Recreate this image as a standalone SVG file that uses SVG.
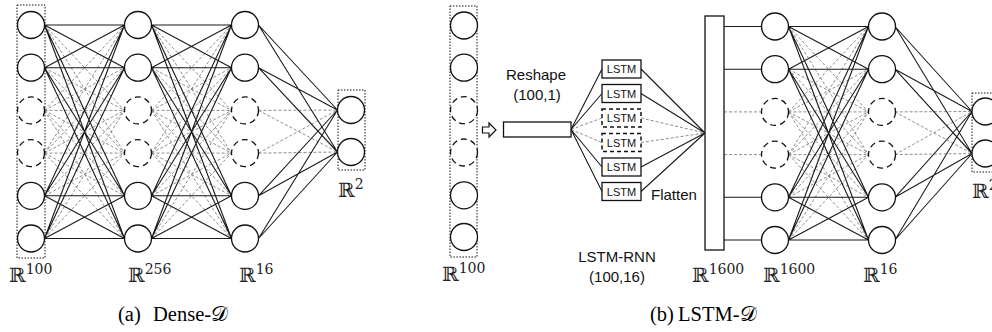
<svg xmlns="http://www.w3.org/2000/svg" xmlns:xlink="http://www.w3.org/1999/xlink" width="992" height="332" viewBox="0 0 992 332">
<style>
.n{fill:#fff;stroke:#111;stroke-width:1.3}
.nd{fill:#fff;stroke:#111;stroke-width:1.3;stroke-dasharray:6 4}
.box{fill:none;stroke:#111;stroke-width:1;stroke-dasharray:1.5 1.5}
.es{fill:none;stroke:#1a1a1a;stroke-width:1.1}
.ed{fill:none;stroke:#808080;stroke-width:0.9;stroke-dasharray:3 2}
.rect{fill:#fff;stroke:#111;stroke-width:1.3}
.rectd{fill:#fff;stroke:#111;stroke-width:1.5;stroke-dasharray:4 3}
.lab{font-family:"Liberation Sans",Arial,sans-serif;font-size:15px;fill:#111}
.lstm{font-family:"Liberation Sans",Arial,sans-serif;font-size:11px;fill:#111;text-anchor:middle}
.R{font-family:"DejaVu Serif",serif;font-size:20px;fill:#222}
.sup{font-size:14px}
.cap{font-family:"Liberation Serif","Times New Roman",serif;font-size:20.5px;fill:#000}
.arr{fill:#fff;stroke:#111;stroke-width:1.2}
</style>
<defs>
<g id="meshS"><path class="es" d="M0 25L80 25M0 25L80 67.7M0 25L80 195.8M0 25L80 238.5M0 67.7L80 25M0 67.7L80 67.7M0 67.7L80 195.8M0 67.7L80 238.5M0 195.8L80 25M0 195.8L80 67.7M0 195.8L80 195.8M0 195.8L80 238.5M0 238.5L80 25M0 238.5L80 67.7M0 238.5L80 195.8M0 238.5L80 238.5"/></g>
<g id="meshD"><path class="ed" d="M0 25L80 110.4M0 25L80 153.1M0 67.7L80 110.4M0 67.7L80 153.1M0 195.8L80 110.4M0 195.8L80 153.1M0 238.5L80 110.4M0 238.5L80 153.1M0 110.4L80 25M0 110.4L80 67.7M0 110.4L80 110.4M0 110.4L80 153.1M0 110.4L80 195.8M0 110.4L80 238.5M0 153.1L80 25M0 153.1L80 67.7M0 153.1L80 110.4M0 153.1L80 153.1M0 153.1L80 195.8M0 153.1L80 238.5"/></g>
<g id="fanS"><path class="es" d="M0 25L79 110M0 25L79 152M0 67.7L79 110M0 67.7L79 152M0 195.8L79 110M0 195.8L79 152M0 238.5L79 110M0 238.5L79 152"/></g>
<g id="fanD"><path class="ed" d="M0 110.4L79 110M0 110.4L79 152M0 153.1L79 110M0 153.1L79 152"/></g>
</defs>

<g id="connectors">
<use xlink:href="#meshD" transform="translate(44.5,0)"/>
<use xlink:href="#meshD" transform="translate(151.5,0)"/>
<use xlink:href="#fanD" transform="translate(258.5,0)"/>
<use xlink:href="#meshS" transform="translate(44.5,0)"/>
<use xlink:href="#meshS" transform="translate(151.5,0)"/>
<use xlink:href="#fanS" transform="translate(258.5,0)"/>
<path class="ed" d="M571 129.5L602 118M571 129.5L602 142.5M641 118L705 133M641 142.5L705 133M724 111.9L761.5 111.9M724 154.6L761.5 154.6"/>
<path class="es" d="M571 129.5L602 69M571 129.5L602 93.5M571 129.5L602 167M571 129.5L602 191.5M641 69L705 133M641 93.5L705 133M641 167L705 133M641 191.5L705 133M724 26.5L761.5 26.5M724 69.2L761.5 69.2M724 197.3L761.5 197.3M724 240L761.5 240"/>
<use xlink:href="#meshD" transform="translate(788.5,1.5)"/>
<use xlink:href="#fanD" transform="translate(895,1.5) scale(0.975,1)"/>
<use xlink:href="#meshS" transform="translate(788.5,1.5)"/>
<use xlink:href="#fanS" transform="translate(895,1.5) scale(0.975,1)"/>
</g>

<g id="box-in-a"><rect class="box" x="17" y="5" width="28" height="253"/></g>
<g id="a-in-1"><circle class="n" cx="31" cy="25" r="13.5"/></g>
<g id="a-in-2"><circle class="n" cx="31" cy="67.7" r="13.5"/></g>
<g id="a-in-3"><circle class="nd" cx="31" cy="110.4" r="13.5"/></g>
<g id="a-in-4"><circle class="nd" cx="31" cy="153.1" r="13.5"/></g>
<g id="a-in-5"><circle class="n" cx="31" cy="195.8" r="13.5"/></g>
<g id="a-in-6"><circle class="n" cx="31" cy="238.5" r="13.5"/></g>

<g id="a-h1-1"><circle class="n" cx="138" cy="25" r="13.5"/></g>
<g id="a-h1-2"><circle class="n" cx="138" cy="67.7" r="13.5"/></g>
<g id="a-h1-3"><circle class="nd" cx="138" cy="110.4" r="13.5"/></g>
<g id="a-h1-4"><circle class="nd" cx="138" cy="153.1" r="13.5"/></g>
<g id="a-h1-5"><circle class="n" cx="138" cy="195.8" r="13.5"/></g>
<g id="a-h1-6"><circle class="n" cx="138" cy="238.5" r="13.5"/></g>

<g id="a-h2-1"><circle class="n" cx="245" cy="25" r="13.5"/></g>
<g id="a-h2-2"><circle class="n" cx="245" cy="67.7" r="13.5"/></g>
<g id="a-h2-3"><circle class="nd" cx="245" cy="110.4" r="13.5"/></g>
<g id="a-h2-4"><circle class="nd" cx="245" cy="153.1" r="13.5"/></g>
<g id="a-h2-5"><circle class="n" cx="245" cy="195.8" r="13.5"/></g>
<g id="a-h2-6"><circle class="n" cx="245" cy="238.5" r="13.5"/></g>

<g id="box-out-a"><rect class="box" x="338" y="90" width="27" height="80"/></g>
<g id="a-out-1"><circle class="n" cx="351" cy="110" r="13.5"/></g>
<g id="a-out-2"><circle class="n" cx="351" cy="152" r="13.5"/></g>

<g id="a-labels">
<text class="R" x="9" y="282">ℝ<tspan class="sup" dy="-8">100</tspan></text>
<text class="R" x="128" y="282">ℝ<tspan class="sup" dy="-8">256</tspan></text>
<text class="R" x="239" y="282">ℝ<tspan class="sup" dy="-8">16</tspan></text>
<text class="R" x="338" y="197">ℝ<tspan class="sup" dy="-8">2</tspan></text>
<text class="cap" y="321"><tspan x="118">(a)</tspan><tspan x="153">Dense-𝒟</tspan></text>
</g>

<g id="box-in-b"><rect class="box" x="450" y="6" width="27" height="251"/></g>
<g id="b-in-1"><circle class="n" cx="464" cy="25.5" r="13.5"/></g>
<g id="b-in-2"><circle class="n" cx="464" cy="67.7" r="13.5"/></g>
<g id="b-in-3"><circle class="nd" cx="464" cy="110.2" r="13.5"/></g>
<g id="b-in-4"><circle class="nd" cx="464" cy="152.5" r="13.5"/></g>
<g id="b-in-5"><circle class="n" cx="464" cy="195.3" r="13.5"/></g>
<g id="b-in-6"><circle class="n" cx="464" cy="237" r="13.5"/></g>

<g id="arrow"><polygon class="arr" points="482.5,127 489,127 489,123 496,130 489,137 489,133 482.5,133"/></g>

<g id="reshape">
<rect class="rect" x="503.5" y="122" width="67.5" height="15"/>
<text class="lab" x="536" y="80" text-anchor="middle">Reshape</text>
<text class="lab" x="537" y="100" text-anchor="middle">(100,1)</text>
</g>

<g id="lstm-1"><rect class="rect" x="602" y="60" width="39" height="18"/><text class="lstm" x="621.5" y="73">LSTM</text></g>
<g id="lstm-2"><rect class="rect" x="602" y="84.5" width="39" height="18"/><text class="lstm" x="621.5" y="97.5">LSTM</text></g>
<g id="lstm-3"><rect class="rectd" x="602" y="109" width="39" height="18"/><text class="lstm" x="621.5" y="122">LSTM</text></g>
<g id="lstm-4"><rect class="rectd" x="602" y="133.5" width="39" height="18"/><text class="lstm" x="621.5" y="146.5">LSTM</text></g>
<g id="lstm-5"><rect class="rect" x="602" y="158" width="39" height="18"/><text class="lstm" x="621.5" y="171">LSTM</text></g>
<g id="lstm-6"><rect class="rect" x="602" y="182.5" width="39" height="18"/><text class="lstm" x="621.5" y="195.5">LSTM</text></g>

<g id="flatten">
<rect class="rect" x="705" y="16" width="19" height="234"/>
<text class="lab" x="651" y="200">Flatten</text>
</g>

<g id="b-d1-1"><circle class="n" cx="775" cy="26.5" r="13.5"/></g>
<g id="b-d1-2"><circle class="n" cx="775" cy="69.2" r="13.5"/></g>
<g id="b-d1-3"><circle class="nd" cx="775" cy="111.9" r="13.5"/></g>
<g id="b-d1-4"><circle class="nd" cx="775" cy="154.6" r="13.5"/></g>
<g id="b-d1-5"><circle class="n" cx="775" cy="197.3" r="13.5"/></g>
<g id="b-d1-6"><circle class="n" cx="775" cy="240" r="13.5"/></g>

<g id="b-d2-1"><circle class="n" cx="882" cy="26.5" r="13.5"/></g>
<g id="b-d2-2"><circle class="n" cx="882" cy="69.2" r="13.5"/></g>
<g id="b-d2-3"><circle class="nd" cx="882" cy="111.9" r="13.5"/></g>
<g id="b-d2-4"><circle class="nd" cx="882" cy="154.6" r="13.5"/></g>
<g id="b-d2-5"><circle class="n" cx="882" cy="197.3" r="13.5"/></g>
<g id="b-d2-6"><circle class="n" cx="882" cy="240" r="13.5"/></g>

<g id="box-out-b"><rect class="box" x="972" y="93" width="28" height="79"/></g>
<g id="b-out-1"><circle class="n" cx="985.5" cy="111.5" r="13.5"/></g>
<g id="b-out-2"><circle class="n" cx="985.5" cy="153.5" r="13.5"/></g>

<g id="b-labels">
<text class="lab" x="617" y="262" text-anchor="middle">LSTM-RNN</text>
<text class="lab" x="617" y="282" text-anchor="middle">(100,16)</text>
<text class="R" x="442" y="281">ℝ<tspan class="sup" dy="-8">100</tspan></text>
<text class="R" x="692" y="282">ℝ<tspan class="sup" dy="-8">1600</tspan></text>
<text class="R" x="763" y="282">ℝ<tspan class="sup" dy="-8">1600</tspan></text>
<text class="R" x="863" y="282">ℝ<tspan class="sup" dy="-8">16</tspan></text>
<text class="R" x="972" y="198">ℝ<tspan class="sup" dy="-8">2</tspan></text>
<text class="cap" y="321"><tspan x="650">(b)</tspan><tspan x="678">LSTM-𝒟</tspan></text>
</g>
</svg>
